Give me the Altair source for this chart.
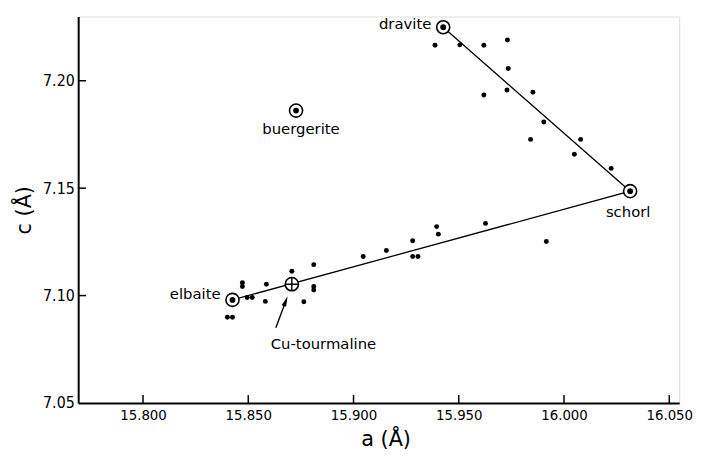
import altair as alt
import pandas as pd

# ---- data ----
sample_a = [15.9387, 15.9505, 15.9619, 15.9731, 15.9735, 15.9619, 15.9729, 15.9852,
            15.9904, 15.9841, 16.0079, 16.0049, 16.0224,
            15.8472, 15.8472, 15.8495, 15.8519, 15.8586, 15.8581, 15.8401, 15.8425,
            15.8707, 15.8811, 15.8811, 15.8811, 15.8764, 15.9046, 15.9156, 15.9281,
            15.9281, 15.9306, 15.9395, 15.9403, 15.9627, 15.9916]
sample_c = [7.2165, 7.2167, 7.2165, 7.2190, 7.2057, 7.1934, 7.1957, 7.1946,
            7.1808, 7.1727, 7.1727, 7.1658, 7.1592,
            7.1060, 7.1042, 7.0991, 7.0991, 7.1053, 7.0973, 7.0899, 7.0899,
            7.1113, 7.1144, 7.1042, 7.1026, 7.0971, 7.1182, 7.1210, 7.1255,
            7.1182, 7.1182, 7.1321, 7.1286, 7.1336, 7.1252]

member_names = ["dravite", "schorl", "elbaite", "buergerite"]
member_a = [15.9426, 16.0314, 15.8425, 15.8727]
member_c = [7.2249, 7.1486, 7.0980, 7.1861]

cu_name = "Cu-tourmaline"
cu_a = [15.8707]
cu_c = [7.1053]

# trend lines: dravite -> schorl -> elbaite
line_a = [15.9426, 16.0314, 15.8425]
line_c = [7.2249, 7.1486, 7.0980]

# arrow pointing at Cu-tourmaline (tail, head)
arrow_a = [15.8631, 15.8678]
arrow_c = [7.0850, 7.0974]

x_ticks = [15.800, 15.850, 15.900, 15.950, 16.000, 16.050]
y_ticks = [7.05, 7.10, 7.15, 7.20]
x_domain = [15.7692, 16.0547]
y_domain = [7.05, 7.2299]

W, H = 608, 391
FONT = "DejaVu Sans"
COND = "DejaVu Sans Condensed"

samples = pd.DataFrame({"a": sample_a, "c": sample_c})
members = pd.DataFrame({"name": member_names, "a": member_a, "c": member_c})
cu = pd.DataFrame({"name": [cu_name], "a": cu_a, "c": cu_c})
lines = pd.DataFrame({"a": line_a, "c": line_c, "i": list(range(len(line_a)))})
arrow = pd.DataFrame({"a": [arrow_a[0]], "c": [arrow_c[0]], "a2": [arrow_a[1]], "c2": [arrow_c[1]]})
arrow_head = pd.DataFrame({"a": [arrow_a[1]], "c": [arrow_c[1]]})
xt = pd.DataFrame({"v": x_ticks[:]})
yt = pd.DataFrame({"v": y_ticks[1:]})

xs = alt.Scale(domain=x_domain, nice=False, zero=False)
ys = alt.Scale(domain=y_domain, nice=False, zero=False)

X = alt.X("a:Q", scale=xs, axis=alt.Axis(
    title="a (Å)", values=x_ticks, format=".3f", ticks=False, grid=False,
    labelPadding=5, labelFont=COND, labelFontSize=15, labelColor="black",
    labelOverlap=False, labelBound=False, labelFlush=False,
    titleFont=FONT, titleFontSize=21, titleFontWeight="normal", titleColor="black",
    titlePadding=6, titleX=311, titleAnchor="middle",
    domainColor="black", domainWidth=2))
Y = alt.Y("c:Q", scale=ys, axis=alt.Axis(
    title="c (Å)", values=y_ticks, format=".2f", ticks=False, grid=False,
    labelPadding=4, labelFont=COND, labelFontSize=16, labelColor="black",
    titleFont=FONT, titleFontSize=21, titleFontWeight="normal", titleColor="black",
    titlePadding=8,
    domainColor="black", domainWidth=2))

base_line = alt.Chart(lines).mark_line(color="black", strokeWidth=1.3).encode(
    x=X, y=Y, order="i:O")

dots = alt.Chart(samples).mark_point(filled=True, color="black", size=25, opacity=1).encode(
    x=alt.X("a:Q", scale=xs), y=alt.Y("c:Q", scale=ys))

ring = alt.Chart(members).mark_point(filled=True, fill="white", stroke="black",
                                     strokeWidth=1.6, size=175, opacity=1).encode(
    x=alt.X("a:Q", scale=xs), y=alt.Y("c:Q", scale=ys))
core = alt.Chart(members).mark_point(filled=True, color="black", size=34, opacity=1).encode(
    x=alt.X("a:Q", scale=xs), y=alt.Y("c:Q", scale=ys))

cu_ring = alt.Chart(cu).mark_point(filled=True, fill="white", stroke="black",
                                   strokeWidth=1.6, size=180, opacity=1).encode(
    x=alt.X("a:Q", scale=xs), y=alt.Y("c:Q", scale=ys))
cu_cross = alt.Chart(cu).mark_point(shape="M-1,0L1,0M0,-1L0,1", filled=False,
                                    stroke="black", strokeWidth=1.4, size=180, opacity=1).encode(
    x=alt.X("a:Q", scale=xs), y=alt.Y("c:Q", scale=ys))

arrow_line = alt.Chart(arrow).mark_rule(color="black", strokeWidth=1.4).encode(
    x=alt.X("a:Q", scale=xs), y=alt.Y("c:Q", scale=ys), x2="a2:Q", y2="c2:Q")
arrow_tip = alt.Chart(arrow_head).mark_point(shape="M0,-1L0.45,1L-0.45,1Z", filled=True,
                                             color="black", size=110, angle=21, opacity=1).encode(
    x=alt.X("a:Q", scale=xs), y=alt.Y("c:Q", scale=ys))

def label(name, df, align, dx, dy):
    return alt.Chart(df[df["name"] == name]).mark_text(
        align=align, baseline="middle", dx=dx, dy=dy, font=FONT, fontSize=15, color="black"
    ).encode(x=alt.X("a:Q", scale=xs), y=alt.Y("c:Q", scale=ys), text="name:N")

labels = [
    label("dravite", members, "right", -12, -3),
    label("schorl", members, "center", -2, 21),
    label("elbaite", members, "right", -12, -6),
    label("buergerite", members, "center", 5, 19),
    label(cu_name, cu, "center", 32, 61),
]

xtick_marks = alt.Chart(xt).mark_rule(color="black", strokeWidth=1.5).encode(
    x=alt.X("v:Q", scale=xs), y=alt.value(H), y2=alt.value(H - 8))
ytick_marks = alt.Chart(yt).mark_rule(color="black", strokeWidth=1.5).encode(
    y=alt.Y("v:Q", scale=ys), x=alt.value(0), x2=alt.value(8))

chart = alt.layer(
    base_line, xtick_marks, ytick_marks, arrow_line, arrow_tip,
    dots, ring, core, cu_ring, cu_cross, *labels
).properties(
    width=W, height=H,
    autosize=alt.AutoSizeParams(type="none"),
    padding={"left": 71, "top": 6, "right": 15, "bottom": 50},
).configure_view(stroke=None).configure(background="white")

chart.save("out.html", embed_options={"renderer": "svg", "actions": False})
